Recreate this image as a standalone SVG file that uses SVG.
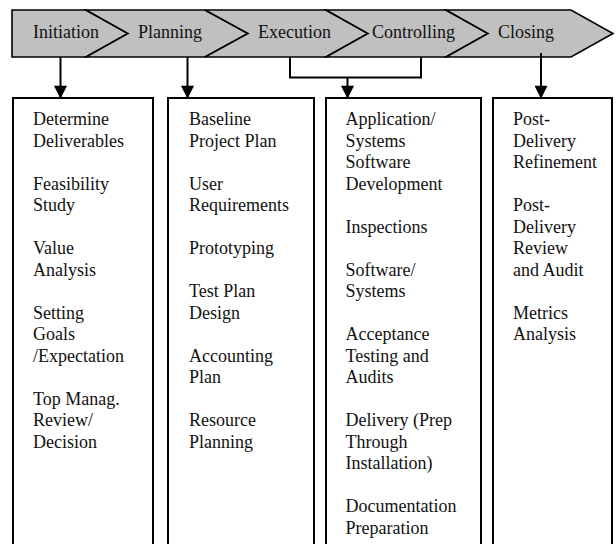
<svg xmlns="http://www.w3.org/2000/svg" width="616" height="544" viewBox="0 0 616 544">
  <style>
    .phase { fill: #c0c0c0; stroke: #000; stroke-width: 1.6; stroke-linejoin: miter; }
    .box { fill: #fff; stroke: #000; stroke-width: 2; }
    .lbl { font-family: "Liberation Serif", "Times New Roman", serif; font-size: 18px; fill: #111; }
    .conn { fill: none; stroke: #000; stroke-width: 2; }
  </style>
  <defs>
    <marker id="arrow" markerWidth="15" markerHeight="13" refX="14" refY="7.5" orient="auto" markerUnits="userSpaceOnUse" viewBox="0 0 15 15">
      <path d="M0,0 L15,7.5 L0,15 Z" fill="#000"/>
    </marker>
  </defs>
  <rect width="616" height="544" fill="#fff"/>

  <!-- phase band -->
  <g id="phase-initiation">
    <polygon class="phase" points="12,10 86,10 128,33.5 86,57 12,57"/>
    <text class="lbl" x="33" y="38">Initiation</text>
  </g>
  <g id="phase-planning">
    <polygon class="phase" points="86,10 205,10 248,33.5 205,57 86,57 128,33.5"/>
    <text class="lbl" x="138" y="38">Planning</text>
  </g>
  <g id="phase-execution">
    <polygon class="phase" points="205,10 326,10 368,33.5 326,57 205,57 248,33.5"/>
    <text class="lbl" x="258" y="38">Execution</text>
  </g>
  <g id="phase-controlling">
    <polygon class="phase" points="326,10 446,10 488,33.5 446,57 326,57 368,33.5"/>
    <text class="lbl" x="372" y="38">Controlling</text>
  </g>
  <g id="phase-closing">
    <polygon class="phase" points="446,10 571,10 613,33.5 571,57 446,57 488,33.5"/>
    <text class="lbl" x="498" y="38">Closing</text>
  </g>

  <!-- activity columns -->
  <g id="col-initiation">
    <rect class="box" x="13" y="98" width="140" height="470"/>
    <text class="lbl" x="33">
      <tspan x="33" y="125">Determine</tspan>
      <tspan x="33" y="146.5">Deliverables</tspan>
      <tspan x="33" y="189.5">Feasibility</tspan>
      <tspan x="33" y="211">Study</tspan>
      <tspan x="33" y="254">Value</tspan>
      <tspan x="33" y="275.5">Analysis</tspan>
      <tspan x="33" y="318.5">Setting</tspan>
      <tspan x="33" y="340">Goals</tspan>
      <tspan x="33" y="361.5">/Expectation</tspan>
      <tspan x="33" y="404.5">Top Manag.</tspan>
      <tspan x="33" y="426">Review/</tspan>
      <tspan x="33" y="447.5">Decision</tspan>
    </text>
  </g>
  <g id="col-planning">
    <rect class="box" x="168" y="98" width="146" height="470"/>
    <text class="lbl">
      <tspan x="189" y="125">Baseline</tspan>
      <tspan x="189" y="146.5">Project Plan</tspan>
      <tspan x="189" y="189.5">User</tspan>
      <tspan x="189" y="211">Requirements</tspan>
      <tspan x="189" y="254">Prototyping</tspan>
      <tspan x="189" y="297">Test Plan</tspan>
      <tspan x="189" y="318.5">Design</tspan>
      <tspan x="189" y="361.5">Accounting</tspan>
      <tspan x="189" y="383">Plan</tspan>
      <tspan x="189" y="426">Resource</tspan>
      <tspan x="189" y="447.5">Planning</tspan>
    </text>
  </g>
  <g id="col-execution">
    <rect class="box" x="326" y="98" width="155" height="470"/>
    <text class="lbl">
      <tspan x="345.5" y="125">Application/</tspan>
      <tspan x="345.5" y="146.5">Systems</tspan>
      <tspan x="345.5" y="168">Software</tspan>
      <tspan x="345.5" y="189.5">Development</tspan>
      <tspan x="345.5" y="232.5">Inspections</tspan>
      <tspan x="345.5" y="275.5">Software/</tspan>
      <tspan x="345.5" y="297">Systems</tspan>
      <tspan x="345.5" y="340">Acceptance</tspan>
      <tspan x="345.5" y="361.5">Testing and</tspan>
      <tspan x="345.5" y="383">Audits</tspan>
      <tspan x="345.5" y="426">Delivery (Prep</tspan>
      <tspan x="345.5" y="447.5">Through</tspan>
      <tspan x="345.5" y="469">Installation)</tspan>
      <tspan x="345.5" y="512">Documentation</tspan>
      <tspan x="345.5" y="533.5">Preparation</tspan>
    </text>
  </g>
  <g id="col-closing">
    <rect class="box" x="493" y="98" width="119" height="470"/>
    <text class="lbl">
      <tspan x="513" y="125">Post-</tspan>
      <tspan x="513" y="146.5">Delivery</tspan>
      <tspan x="513" y="168">Refinement</tspan>
      <tspan x="513" y="211">Post-</tspan>
      <tspan x="513" y="232.5">Delivery</tspan>
      <tspan x="513" y="254">Review</tspan>
      <tspan x="513" y="275.5">and Audit</tspan>
      <tspan x="513" y="318.5">Metrics</tspan>
      <tspan x="513" y="340">Analysis</tspan>
    </text>
  </g>

  <!-- connectors -->
  <g id="connectors">
    <line class="conn" x1="60.5" y1="57" x2="60.5" y2="98" marker-end="url(#arrow)"/>
    <line class="conn" x1="187.5" y1="57" x2="187.5" y2="98" marker-end="url(#arrow)"/>
    <polyline class="conn" points="290,57 290,77.5 421,77.5 421,57"/>
    <line class="conn" x1="347.5" y1="77.5" x2="347.5" y2="98" marker-end="url(#arrow)"/>
    <line class="conn" x1="541" y1="53" x2="541" y2="98" marker-end="url(#arrow)"/>
  </g>
</svg>
